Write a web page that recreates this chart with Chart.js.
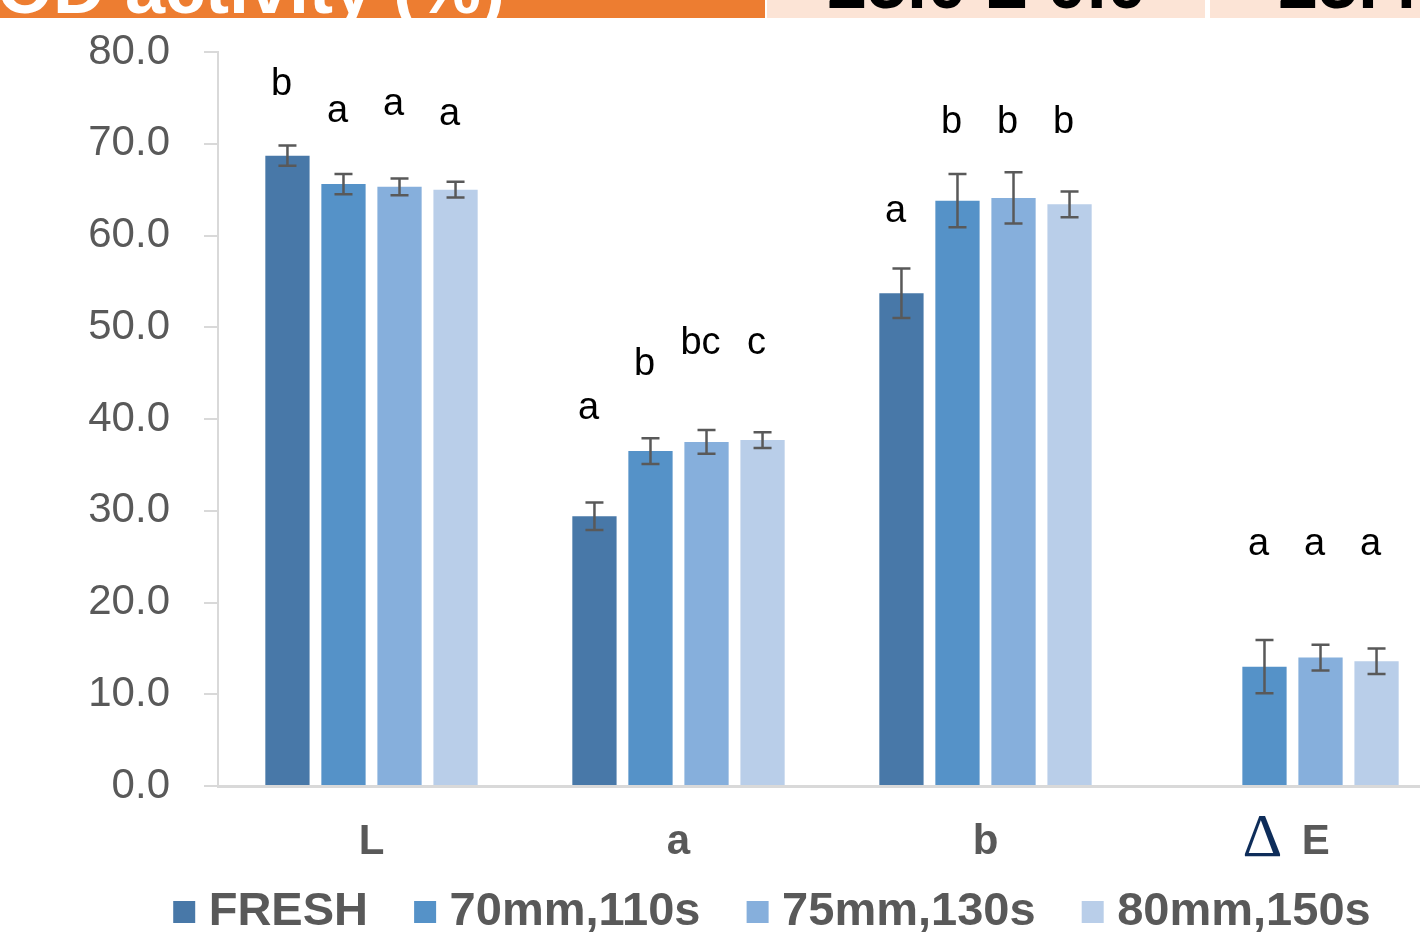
<!DOCTYPE html>
<html>
<head>
<meta charset="utf-8">
<script src="https://cdn.jsdelivr.net/npm/chart.js@4.4.1/dist/chart.umd.min.js"></script>
<style>
body { margin: 0; width: 1420px; height: 934px; overflow: hidden; background: #fff; position: relative; font-family: 'Liberation Sans', Arial, sans-serif; }
#wrap { position: absolute; left: 0; top: 0; width: 1580px; height: 934px; }
.cell { position: absolute; top: 0; height: 18px; overflow: hidden; }
.cell span { position: absolute; font-size: 72px; line-height: 72px; font-weight: bold; white-space: nowrap; }
</style>
</head>
<body>
<div id="wrap"><canvas id="myChart"></canvas></div>
<div class="cell" style="left:0;width:765px;background:#ED7D31"><span style="right:260px;top:-48px;color:#fff">POD activity (%)</span></div>
<div class="cell" style="left:767px;width:438px;background:#FCE4D6"><span style="left:60px;top:-53px;color:#000">25.0 ± 0.0</span></div>
<div class="cell" style="left:1210px;width:210px;background:#FCE4D6"><span style="left:68px;top:-53px;color:#000">25.4 ± 0.0</span></div>
<script>
var categories = ['L', 'a', 'b', 'ΔE']
var seriesNames = ['FRESH', '70mm,110s', '75mm,130s', '80mm,150s']
var yTicks = [0, 10, 20, 30, 40, 50, 60, 70, 80]

// means
var fresh = [68.7, 29.4, 53.7, null]
var mm70 = [65.6, 36.5, 63.8, 13.0]
var mm75 = [65.3, 37.5, 64.1, 14.0]
var mm80 = [65.0, 37.7, 63.4, 13.6]

// standard deviations (error bars)
var freshErr = [1.1, 1.5, 2.7, null]
var mm70Err = [1.1, 1.4, 2.9, 2.9]
var mm75Err = [0.9, 1.3, 2.8, 1.4]
var mm80Err = [0.85, 0.85, 1.4, 1.4]

// significance letters and the value they sit at
var freshLetters = ['b', 'a', 'a', null]
var mm70Letters = ['a', 'b', 'b', 'a']
var mm75Letters = ['a', 'bc', 'b', 'a']
var mm80Letters = ['a', 'c', 'b', 'a']
var freshLetterAt = [75.3, 40.0, 61.5, null]
var mm70LetterAt = [72.4, 44.8, 71.2, 25.2]
var mm75LetterAt = [73.1, 47.1, 71.2, 25.2]
var mm80LetterAt = [72.0, 47.1, 71.2, 25.2]

var colors = ['#4878A8', '#5592C8', '#86AFDC', '#B9CEE9']
var grey = '#595959'
var axisGrey = '#D9D9D9'

Chart.defaults.font.family = "'Liberation Sans', Arial, sans-serif"

var extras = [
  { err: freshErr, letters: freshLetters, at: freshLetterAt },
  { err: mm70Err, letters: mm70Letters, at: mm70LetterAt },
  { err: mm75Err, letters: mm75Letters, at: mm75LetterAt },
  { err: mm80Err, letters: mm80Letters, at: mm80LetterAt }
]

// error bars, letters and the delta sign
var extraPlugin = {
  id: 'extraPlugin',
  afterDatasetsDraw: function(chart) {
    var ctx = chart.ctx
    var y = chart.scales.y
    ctx.save()
    chart.data.datasets.forEach(function(ds, i) {
      var meta = chart.getDatasetMeta(i)
      meta.data.forEach(function(bar, j) {
        var v = ds.data[j]
        if (v === null) return
        var e = extras[i].err[j]
        var top = y.getPixelForValue(v + e)
        var bot = y.getPixelForValue(v - e)
        ctx.strokeStyle = grey
        ctx.lineWidth = 2.5
        ctx.beginPath()
        ctx.moveTo(bar.x, top); ctx.lineTo(bar.x, bot)
        ctx.moveTo(bar.x - 9, top); ctx.lineTo(bar.x + 9, top)
        ctx.moveTo(bar.x - 9, bot); ctx.lineTo(bar.x + 9, bot)
        ctx.stroke()
        var letter = extras[i].letters[j]
        if (letter) {
          ctx.fillStyle = '#000'
          ctx.font = "38px 'Liberation Sans', Arial"
          ctx.textAlign = 'center'
          ctx.textBaseline = 'alphabetic'
          ctx.fillText(letter, bar.x - 6, y.getPixelForValue(extras[i].at[j]))
        }
      })
    })
    ctx.restore()
  },
  afterDraw: function(chart) {
    var x = chart.scales.x
    var ctx = chart.ctx
    categories.forEach(function(c, i) {
      if (c.indexOf('Δ') === 0) {
        ctx.save()
        ctx.fillStyle = '#0E2D5A'
        ctx.font = "62px 'Liberation Serif', 'Times New Roman'"
        ctx.textAlign = 'center'
        ctx.textBaseline = 'alphabetic'
        ctx.fillText('Δ', x.getPixelForTick(i) - 30, 856)
        ctx.restore()
      }
    })
  }
}

var ctx = document.getElementById('myChart').getContext('2d')
var chart = new Chart(ctx, {
  type: 'bar',
  data: {
    labels: categories,
    datasets: [fresh, mm70, mm75, mm80].map(function(d, i) {
      return {
        label: seriesNames[i],
        data: d,
        backgroundColor: colors[i],
        barPercentage: 0.79,
        categoryPercentage: 0.73
      }
    })
  },
  options: {
    responsive: true,
    maintainAspectRatio: false,
    animation: false,
    layout: { padding: { top: 52, bottom: -11.5, left: 0, right: 0 } },
    plugins: {
      tooltip: { enabled: false },
      legend: {
        position: 'bottom',
        labels: {
          usePointStyle: true,
          pointStyle: 'rect',
          boxWidth: 2,
          boxHeight: 22,
          padding: 30,
          color: grey,
          font: { size: 47, weight: 'bold' },
          generateLabels: function(chart) {
            var items = Chart.defaults.plugins.legend.labels.generateLabels(chart)
            items.forEach(function(it) { it.text = it.text + '  ' })
            return items
          }
        }
      }
    },
    scales: {
      x: {
        grid: { display: false, drawTicks: false },
        border: { display: true, color: axisGrey, width: 3 },
        ticks: {
          color: grey,
          padding: 31,
          font: { size: 42, weight: 'bold' },
          callback: function(v, i) {
            var l = categories[i]
            return l.indexOf('Δ') === 0 ? '    ' + l.slice(1) : l
          }
        },
        afterFit: function(s) { s.height = 72.5 }
      },
      y: {
        min: 0,
        max: 80,
        afterBuildTicks: function(s) { s.ticks = yTicks.map(function(v) { return { value: v } }) },
        grid: { drawOnChartArea: false, drawTicks: true, tickLength: 14, color: axisGrey, lineWidth: 2 },
        border: { display: true, color: axisGrey, width: 2 },
        ticks: {
          color: grey,
          padding: 34,
          font: { size: 42 },
          callback: function(v) { return v.toFixed(1) }
        },
        afterFit: function(s) {
          s.width = 218
          s.paddingTop = 0
          s.paddingBottom = 0
        }
      },
      y2: {
        position: 'right',
        display: true,
        grid: { display: false },
        border: { display: false },
        ticks: { display: false },
        afterFit: function(s) { s.width = 134 }
      }
    }
  },
  plugins: [extraPlugin]
})
</script>
</body>
</html>
